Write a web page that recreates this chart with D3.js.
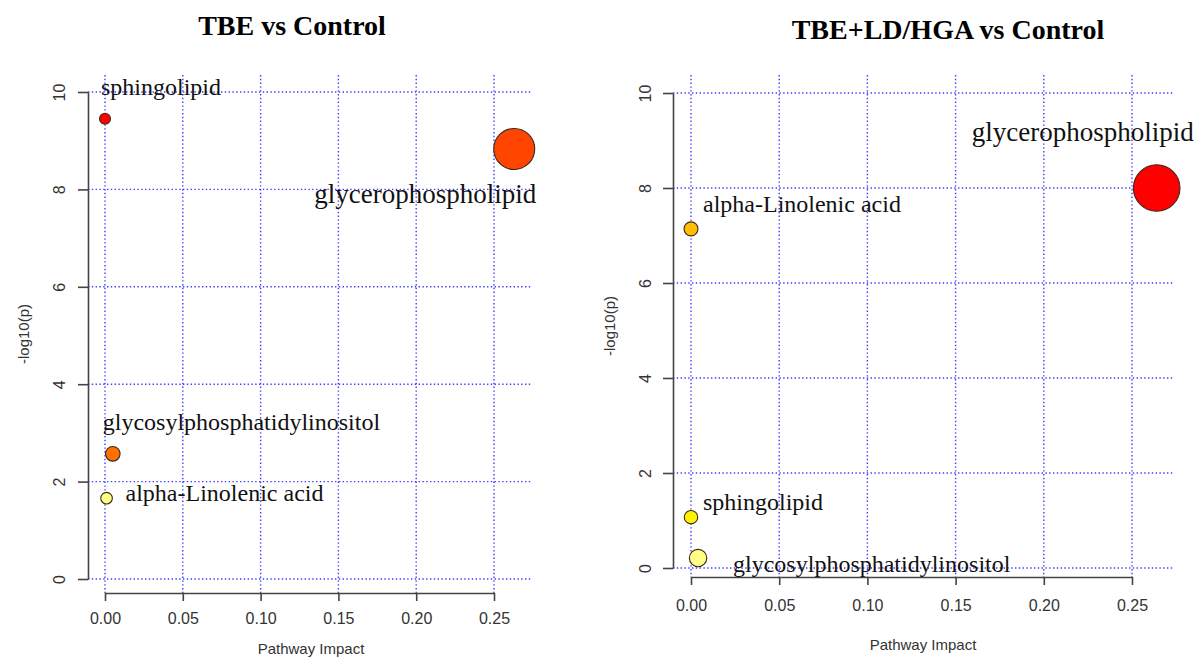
<!DOCTYPE html>
<html>
<head>
<meta charset="utf-8">
<script src="https://cdn.jsdelivr.net/npm/d3@7"></script>
<style>
  body { margin: 0; background: #fff; }
  .tick text { font-family: "Liberation Sans", Arial, sans-serif; fill: #333; }
</style>
</head>
<body>
<svg id="chart" width="1197" height="658"></svg>
<script>
// ---- data ----
const pathways = ["sphingolipid", "glycerophospholipid", "glycosylphosphatidylinositol", "alpha-Linolenic acid"];

// TBE vs Control
const tbeImpact = [0.000, 0.263, 0.005, 0.001];
const tbeLogP   = [9.45, 8.83, 2.57, 1.66];
const tbeCex    = [0.55, 2.05, 0.73, 0.58];

// TBE+LD/HGA vs Control
const ldImpact = [0.000, 0.264, 0.004, 0.000];
const ldLogP   = [1.07, 8.00, 0.21, 7.14];
const ldCex    = [0.67, 2.33, 0.87, 0.70];

const xTicks = [0, 0.05, 0.10, 0.15, 0.20, 0.25];
const yTicks = [0, 2, 4, 6, 8, 10];

// ---- styling / layout ----
const tbeColors = ["#ff0000", "#ff4500", "#ff7000", "#ffff84"];
const ldColors  = ["#fff200", "#ff0000", "#ffff84", "#ffbf00"];

// label nudges in px relative to each point [dx, dy, anchor, font size]
const tbeNudge = [[-4, -24, "start", 24], [22, 54, "end", 27], [-10, -24, "start", 24], [19, 3, "start", 24]];
const ldNudge  = [[12, -7, "start", 24], [37, -47, "end", 27], [35, 14, "start", 24], [12, -17, "start", 24]];

const svg = d3.select("#chart");

function drawPanel(p) {
  const g = svg.append("g");

  const x = d3.scaleLinear().domain([0, 0.25]).range([p.x0, p.x25]);
  const y = d3.scaleLinear().domain([0, 10]).range([p.y0, p.y10]);
  const r = d3.scaleLinear().domain([0, 1]).range([0, 10]);
  const color = d3.scaleOrdinal().domain(pathways).range(p.colors);

  // dotted blue grid
  g.selectAll(".vgrid").data(xTicks).join("line")
      .attr("x1", d => x(d)).attr("x2", d => x(d))
      .attr("y1", p.top).attr("y2", p.bottom)
      .attr("stroke", "#2a2aff").attr("stroke-width", 1.4)
      .attr("stroke-dasharray", "1.4,2.4").attr("opacity", 0.9);
  g.selectAll(".hgrid").data(yTicks).join("line")
      .attr("x1", p.left).attr("x2", p.right)
      .attr("y1", d => y(d)).attr("y2", d => y(d))
      .attr("stroke", "#2a2aff").attr("stroke-width", 1.4)
      .attr("stroke-dasharray", "1.4,2.4").attr("opacity", 0.9);

  // axes
  const xAxis = g.append("g")
      .attr("transform", `translate(0,${p.bottom})`)
      .call(d3.axisBottom(x).tickValues(xTicks).tickFormat(d3.format(".2f"))
        .tickSize(8).tickSizeOuter(0).tickPadding(p.xPad));
  xAxis.selectAll("text").style("font-size", "16px");

  const yAxis = g.append("g")
      .attr("transform", `translate(${p.left},0)`)
      .call(d3.axisLeft(y).tickValues(yTicks).tickFormat(d3.format("d"))
        .tickSize(10).tickSizeOuter(0));
  yAxis.selectAll("text")
      .attr("x", 0).attr("dy", null)
      .attr("transform", `translate(${-p.yLab},0) rotate(-90)`)
      .attr("text-anchor", "middle")
      .attr("dominant-baseline", "central")
      .style("font-size", "16px");

  [xAxis, yAxis].forEach(a => {
    a.selectAll("path, line").attr("stroke", "#444").attr("stroke-width", 1.6);
  });

  // axis titles
  g.append("text")
      .attr("x", p.xTitle[0]).attr("y", p.xTitle[1])
      .attr("text-anchor", "middle").attr("dominant-baseline", "central")
      .style("font-family", "Liberation Sans, Arial, sans-serif")
      .style("font-size", "15px").style("fill", "#333")
      .text("Pathway Impact");
  g.append("text")
      .attr("transform", `translate(${p.yTitle[0]},${p.yTitle[1]}) rotate(-90)`)
      .attr("text-anchor", "middle").attr("dominant-baseline", "central")
      .style("font-family", "Liberation Sans, Arial, sans-serif")
      .style("font-size", "15px").style("fill", "#333")
      .text("-log10(p)");

  // title
  g.append("text")
      .attr("x", p.titleX).attr("y", p.titleY)
      .attr("text-anchor", "middle")
      .style("font-family", "Liberation Serif, Times New Roman, serif")
      .style("font-weight", "bold").style("font-size", "28px")
      .text(p.title);

  const rows = pathways.map((name, i) => ({
    name, impact: p.impact[i], logp: p.logp[i], cex: p.cex[i], nudge: p.nudge[i]
  }));

  // bubbles, biggest first
  g.selectAll(".bubble").data(rows.slice().sort((a, b) => b.cex - a.cex)).join("circle")
      .attr("cx", d => x(d.impact))
      .attr("cy", d => y(d.logp))
      .attr("r", d => r(d.cex))
      .attr("fill", d => color(d.name))
      .attr("stroke", "#3a2a20").attr("stroke-width", 1.1);

  g.selectAll(".label").data(rows).join("text")
      .attr("x", d => x(d.impact) + d.nudge[0])
      .attr("y", d => y(d.logp) + d.nudge[1])
      .attr("text-anchor", d => d.nudge[2])
      .style("font-family", "Liberation Serif, Times New Roman, serif")
      .style("font-size", d => d.nudge[3] + "px").style("fill", "#111")
      .text(d => d.name);
}

drawPanel({
  title: "TBE vs Control", titleX: 292, titleY: 35,
  impact: tbeImpact, logp: tbeLogP, cex: tbeCex, colors: tbeColors, nudge: tbeNudge,
  left: 88, right: 531, top: 75, bottom: 593,
  x0: 105, x25: 494, y0: 579, y10: 92,
  xPad: 12, yLab: 29,
  xTitle: [311, 648], yTitle: [23, 334]
});

drawPanel({
  title: "TBE+LD/HGA vs Control", titleX: 948, titleY: 39,
  impact: ldImpact, logp: ldLogP, cex: ldCex, colors: ldColors, nudge: ldNudge,
  left: 673, right: 1174, top: 75, bottom: 577,
  x0: 691, x25: 1132, y0: 568, y10: 93,
  xPad: 15, yLab: 28,
  xTitle: [923, 644], yTitle: [609, 326]
});
</script>
</body>
</html>
